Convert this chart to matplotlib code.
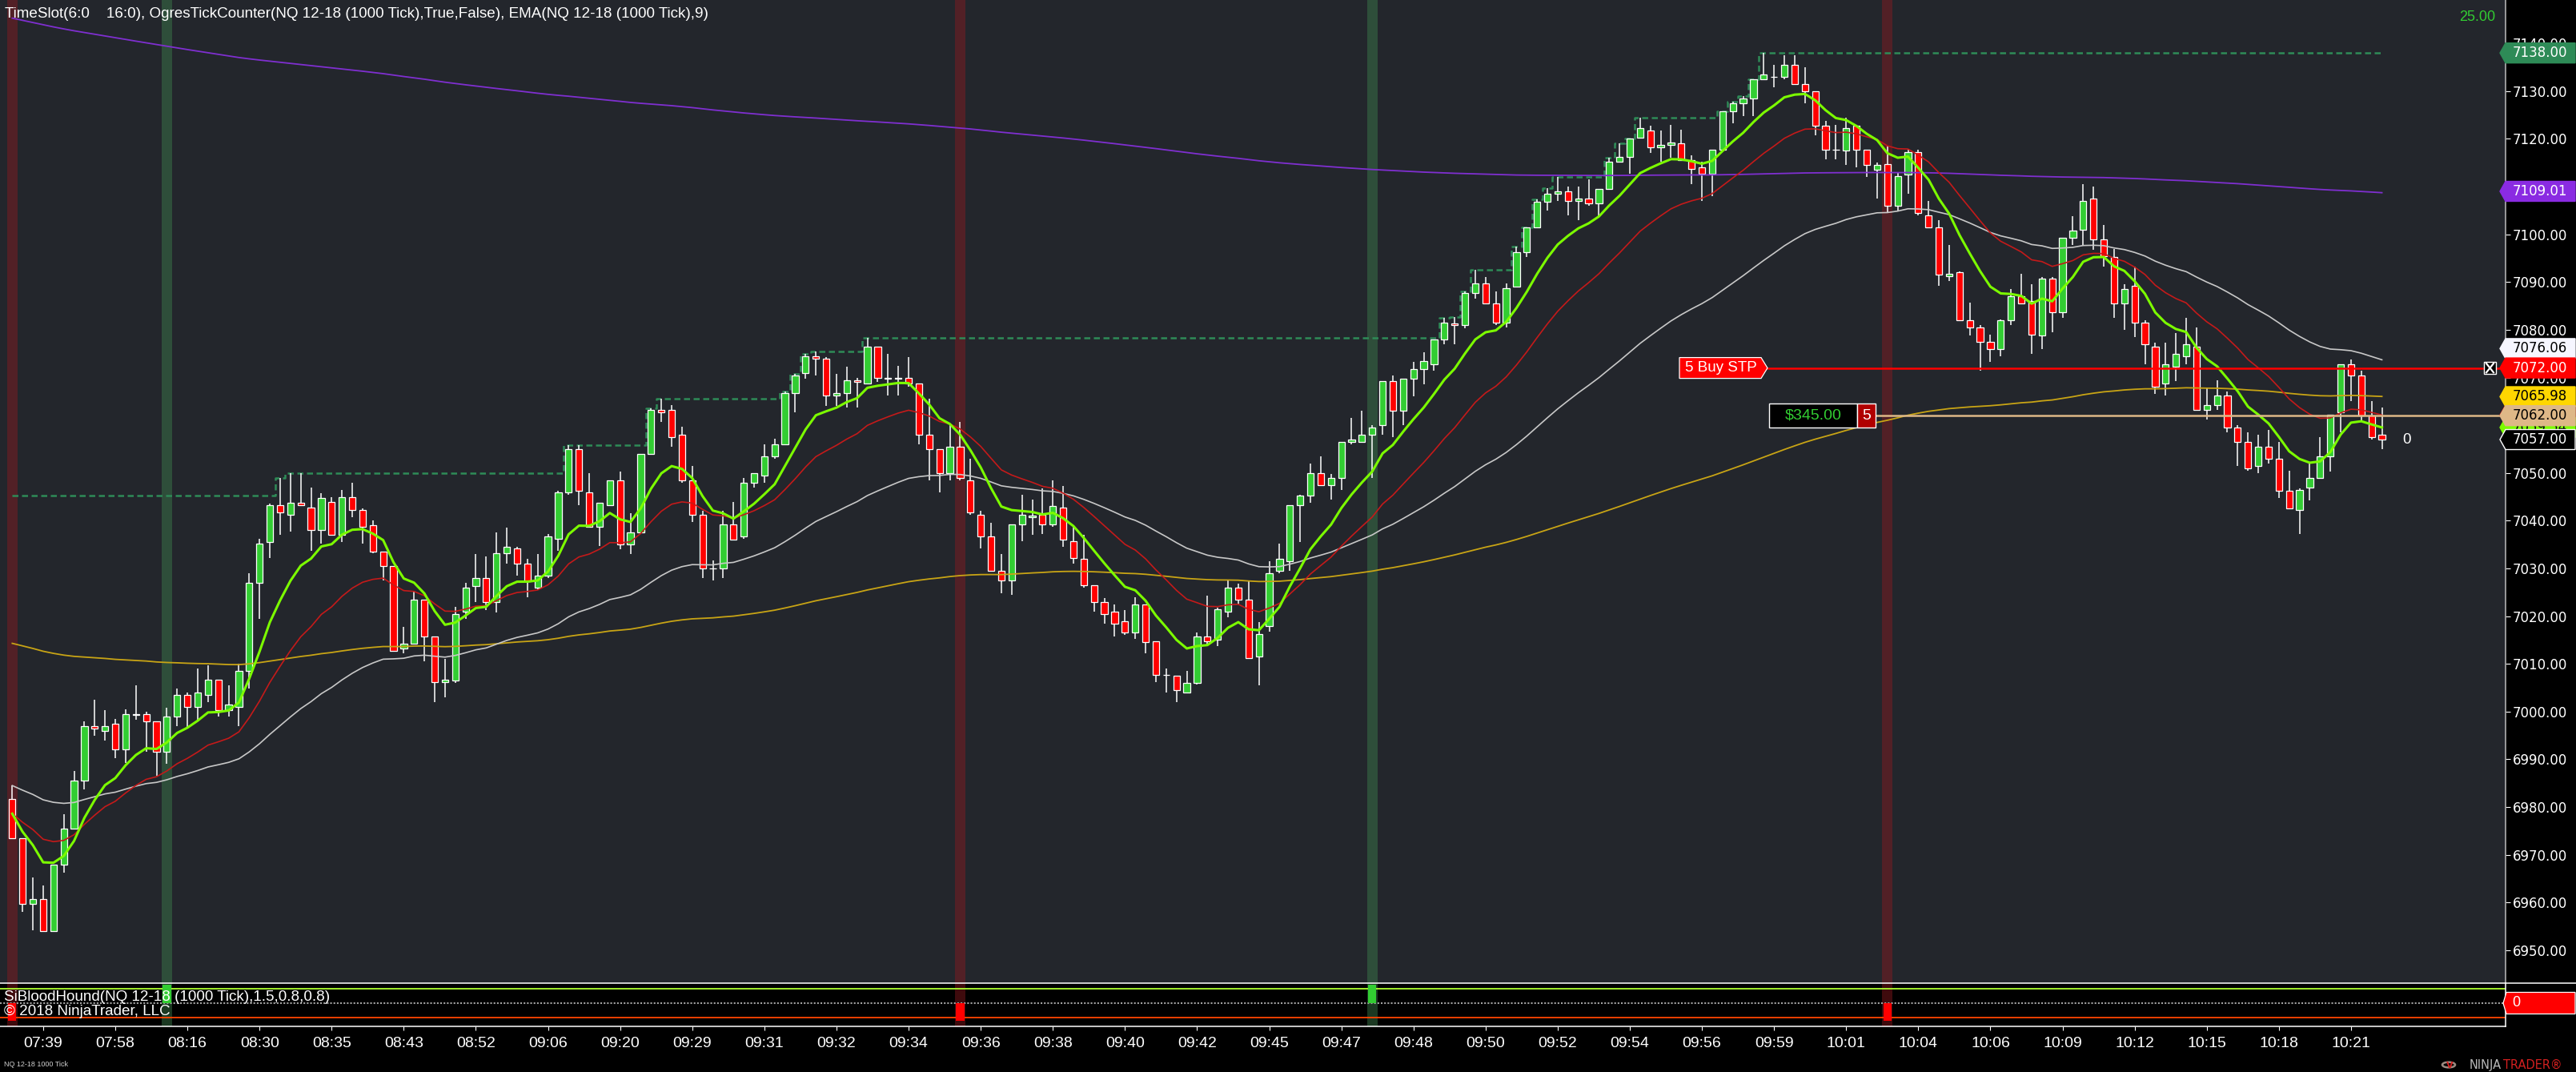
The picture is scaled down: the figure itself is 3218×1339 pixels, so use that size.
import numpy as np
import matplotlib
matplotlib.use("Agg")
import matplotlib.pyplot as plt
from matplotlib.patches import Polygon, Rectangle, Circle
from matplotlib.lines import Line2D
import matplotlib.transforms as mtransforms

plt.rcParams['font.family'] = ['Liberation Sans', 'DejaVu Sans']

# ---------------- data (NQ 12-18, 1000 tick bars) ----------------
opens = [6981.75, 6973.5, 6959.75, 6960.75, 6954.0, 6968.0, 6975.5, 6985.5, 6997.0, 6996.0,
         6997.5, 6992.0, 6999.25, 6999.5, 6998.0, 6991.5, 6999.0, 7003.5, 7001.0, 7003.5,
         7006.75, 7000.25, 7001.0, 7008.5, 7027.0, 7035.5, 7043.25, 7041.25, 7043.75, 7042.75,
         7038.0, 7044.0, 7037.0, 7045.0, 7042.25, 7039.0, 7033.5, 7030.5, 7013.25, 7014.25,
         7023.5, 7015.75, 7006.25, 7006.5, 7021.0, 7026.25, 7028.0, 7023.0, 7033.25, 7034.25,
         7031.0, 7026.0, 7028.5, 7036.25, 7046.0, 7055.0, 7046.0, 7038.75, 7043.25, 7048.5,
         7035.0, 7037.5, 7054.0, 7063.25, 7063.25, 7058.0, 7048.5, 7041.25, 7030.0, 7030.0,
         7039.25, 7036.75, 7048.0, 7049.5, 7053.5, 7056.0, 7066.75, 7071.0, 7074.5, 7074.0,
         7066.25, 7066.75, 7069.5, 7068.75, 7076.5, 7070.0, 7069.75, 7070.0, 7068.75, 7058.0,
         7055.0, 7050.0, 7055.5, 7048.5, 7041.25, 7036.75, 7029.5, 7027.5, 7039.25, 7040.75,
         7041.25, 7039.25, 7042.75, 7035.75, 7032.0, 7026.5, 7023.0, 7021.0, 7019.0, 7016.5,
         7022.5, 7014.75, 7007.75, 7007.5, 7004.0, 7006.0, 7015.75, 7015.0, 7021.0, 7026.0,
         7023.5, 7011.5, 7018.0, 7029.5, 7031.5, 7043.25, 7045.25, 7050.0, 7047.5, 7049.0,
         7056.5, 7056.5, 7058.0, 7060.0, 7069.25, 7063.0, 7069.75, 7071.75, 7072.75, 7078.0,
         7081.25, 7081.0, 7087.75, 7089.75, 7085.5, 7081.5, 7089.0, 7096.25, 7101.5, 7106.75,
         7108.5, 7109.0, 7107.0, 7107.5, 7106.5, 7109.5, 7115.25, 7116.25, 7120.25, 7121.75,
         7118.25, 7118.75, 7119.0, 7115.5, 7114.0, 7112.75, 7117.75, 7125.75, 7127.5, 7128.5,
         7132.5, 7133.0, 7133.0, 7135.5, 7131.5, 7130.0, 7122.75, 7117.75, 7117.5, 7122.75,
         7117.75, 7113.5, 7114.75, 7106.0, 7112.5, 7117.25, 7104.0, 7101.5, 7091.25, 7092.0,
         7082.0, 7080.5, 7077.5, 7076.0, 7082.0, 7087.0, 7086.0, 7078.75, 7090.75, 7083.75,
         7099.25, 7101.0, 7107.5, 7099.0, 7095.25, 7085.5, 7089.25, 7081.5, 7076.5, 7068.75,
         7072.25, 7074.5, 7076.5, 7063.25, 7064.25, 7066.25, 7059.5, 7056.5, 7051.5, 7055.5,
         7053.0, 7046.25, 7042.25, 7047.0, 7049.0, 7053.5, 7062.75, 7072.75, 7070.5, 7062.0,
         7058.0]
highs = [6984.5, 6973.5, 6965.25, 6963.5, 6968.0, 6978.5, 6987.5, 6998.0, 7002.5, 7000.25,
         6998.5, 7000.5, 7005.5, 7000.0, 6998.0, 7000.75, 7004.75, 7004.0, 7009.0, 7009.75,
         7006.75, 7005.5, 7010.0, 7029.0, 7036.25, 7043.5, 7049.0, 7050.0, 7050.0, 7047.0,
         7045.75, 7045.0, 7046.5, 7048.0, 7042.5, 7040.0, 7033.5, 7030.5, 7017.75, 7025.25,
         7023.5, 7015.75, 7011.0, 7022.0, 7027.0, 7033.0, 7032.5, 7037.5, 7038.5, 7034.5,
         7032.0, 7033.0, 7037.25, 7046.25, 7055.75, 7055.75, 7050.0, 7043.75, 7048.5, 7050.25,
         7041.5, 7054.0, 7063.5, 7065.5, 7064.25, 7059.75, 7051.5, 7042.0, 7031.75, 7042.0,
         7044.0, 7049.0, 7050.0, 7056.0, 7057.25, 7067.0, 7070.75, 7075.0, 7075.5, 7074.25,
         7070.75, 7072.25, 7070.0, 7078.25, 7076.5, 7075.0, 7072.5, 7074.25, 7068.75, 7065.5,
         7055.0, 7060.0, 7060.75, 7053.0, 7042.0, 7039.5, 7033.0, 7039.25, 7045.5, 7044.5,
         7046.75, 7048.5, 7047.25, 7038.75, 7037.0, 7026.5, 7023.75, 7022.5, 7021.25, 7024.0,
         7022.5, 7014.75, 7009.0, 7007.5, 7008.5, 7016.5, 7024.25, 7021.75, 7027.5, 7026.75,
         7027.25, 7018.75, 7031.5, 7035.25, 7043.25, 7045.5, 7052.0, 7053.5, 7049.75, 7056.5,
         7061.5, 7063.0, 7060.0, 7069.25, 7070.5, 7069.75, 7073.25, 7075.25, 7078.0, 7082.5,
         7082.75, 7088.0, 7092.5, 7091.0, 7088.0, 7089.75, 7097.5, 7101.5, 7107.25, 7109.75,
         7112.0, 7110.0, 7110.0, 7111.5, 7109.5, 7116.0, 7119.0, 7120.0, 7124.5, 7122.75,
         7121.75, 7123.0, 7122.0, 7116.5, 7115.25, 7117.75, 7125.75, 7127.75, 7129.0, 7132.5,
         7138.0, 7135.5, 7137.5, 7137.5, 7135.0, 7130.0, 7123.75, 7123.0, 7124.5, 7123.0,
         7117.75, 7115.0, 7118.5, 7113.0, 7117.75, 7117.75, 7107.0, 7103.0, 7097.75, 7092.25,
         7085.75, 7081.0, 7079.0, 7082.25, 7088.5, 7091.75, 7089.5, 7091.0, 7091.0, 7099.25,
         7103.75, 7110.5, 7110.0, 7102.0, 7097.0, 7089.5, 7093.25, 7082.0, 7077.25, 7077.25,
         7079.25, 7082.5, 7080.5, 7067.75, 7069.5, 7067.0, 7060.0, 7058.5, 7058.0, 7059.0,
         7056.5, 7050.5, 7046.75, 7052.0, 7057.5, 7062.25, 7072.75, 7073.75, 7071.5, 7065.0,
         7063.75]
lows = [6973.5, 6958.0, 6954.25, 6954.0, 6954.0, 6966.25, 6975.5, 6983.75, 6995.0, 6994.0,
        6990.25, 6989.25, 6998.25, 6991.5, 6986.5, 6989.0, 6997.0, 6996.5, 6998.0, 7002.0,
        6999.0, 6999.0, 6997.0, 7004.75, 7019.5, 7032.25, 7037.0, 7037.75, 7043.0, 7033.75,
        7035.25, 7037.0, 7035.5, 7040.75, 7035.25, 7033.25, 7027.5, 7012.5, 7012.25, 7014.25,
        7010.5, 7002.0, 7003.0, 7006.0, 7019.5, 7023.0, 7021.25, 7020.75, 7031.0, 7028.5,
        7024.0, 7025.5, 7028.0, 7033.75, 7045.5, 7043.25, 7038.75, 7034.75, 7043.25, 7034.0,
        7033.0, 7037.5, 7053.75, 7060.75, 7055.5, 7048.0, 7039.75, 7028.0, 7027.5, 7028.0,
        7036.0, 7036.25, 7047.0, 7048.0, 7053.0, 7056.0, 7062.75, 7069.75, 7070.5, 7064.0,
        7064.0, 7063.75, 7063.75, 7068.5, 7069.0, 7066.25, 7066.25, 7068.0, 7056.0, 7048.5,
        7046.0, 7048.5, 7048.5, 7041.25, 7034.25, 7029.25, 7024.75, 7024.5, 7035.75, 7037.0,
        7037.25, 7038.75, 7034.5, 7031.0, 7026.0, 7021.0, 7018.5, 7015.75, 7016.0, 7015.25,
        7012.25, 7006.25, 7004.0, 7002.0, 7004.0, 7005.75, 7014.0, 7013.75, 7019.75, 7022.5,
        7011.25, 7005.5, 7016.75, 7029.0, 7029.5, 7035.5, 7043.75, 7047.5, 7044.5, 7046.5,
        7056.0, 7056.5, 7049.0, 7058.0, 7057.5, 7060.0, 7066.0, 7068.5, 7071.5, 7077.0,
        7077.0, 7080.25, 7086.5, 7085.5, 7081.0, 7080.5, 7089.0, 7095.25, 7101.5, 7105.0,
        7107.0, 7104.0, 7103.0, 7106.0, 7103.75, 7109.5, 7115.0, 7112.75, 7120.25, 7117.0,
        7115.25, 7116.0, 7115.5, 7110.5, 7107.0, 7108.0, 7117.75, 7123.25, 7124.75, 7124.75,
        7132.5, 7130.75, 7132.5, 7131.5, 7127.5, 7120.75, 7115.75, 7115.75, 7114.5, 7114.0,
        7112.0, 7107.5, 7104.5, 7105.0, 7108.5, 7104.0, 7101.5, 7089.25, 7090.25, 7082.0,
        7078.75, 7071.5, 7073.25, 7074.5, 7081.0, 7085.5, 7075.0, 7076.0, 7079.5, 7082.5,
        7097.75, 7097.75, 7096.75, 7093.25, 7082.5, 7080.0, 7078.5, 7072.75, 7066.5, 7066.25,
        7069.25, 7072.75, 7063.25, 7061.25, 7063.25, 7058.5, 7051.5, 7050.5, 7050.0, 7052.0,
        7044.75, 7042.5, 7037.25, 7044.25, 7049.0, 7050.25, 7058.5, 7065.0, 7060.75, 7057.0,
        7055.0]
closes = [6973.5, 6959.75, 6960.75, 6954.0, 6968.0, 6975.5, 6985.5, 6997.0, 6996.5, 6997.0,
          6992.0, 6999.5, 6999.5, 6998.0, 6991.5, 6999.0, 7003.5, 7001.0, 7004.0, 7006.75,
          7000.25, 7001.5, 7008.5, 7027.0, 7035.25, 7043.25, 7041.75, 7043.75, 7043.25, 7038.0,
          7044.75, 7037.0, 7045.0, 7042.25, 7038.75, 7033.5, 7030.5, 7012.75, 7014.25, 7023.5,
          7015.75, 7006.25, 7006.75, 7020.5, 7026.0, 7028.0, 7023.0, 7033.25, 7034.5, 7031.0,
          7027.25, 7028.5, 7036.75, 7046.0, 7055.0, 7046.25, 7038.75, 7043.75, 7048.5, 7035.0,
          7037.5, 7054.0, 7063.25, 7062.75, 7057.5, 7048.5, 7041.25, 7030.0, 7030.0, 7039.25,
          7036.0, 7048.0, 7050.0, 7053.5, 7056.0, 7066.75, 7070.5, 7074.5, 7074.0, 7066.25,
          7066.75, 7069.5, 7069.0, 7076.5, 7070.0, 7069.75, 7070.0, 7068.75, 7058.0, 7055.0,
          7050.0, 7055.5, 7049.0, 7041.75, 7036.75, 7029.5, 7027.5, 7039.25, 7041.25, 7041.0,
          7039.25, 7043.0, 7036.0, 7032.25, 7026.5, 7023.0, 7020.5, 7018.5, 7016.5, 7022.5,
          7014.5, 7007.75, 7007.75, 7004.5, 7006.0, 7015.75, 7014.75, 7021.5, 7026.0, 7023.5,
          7011.25, 7016.25, 7029.0, 7032.0, 7043.25, 7045.25, 7050.0, 7047.5, 7049.0, 7056.5,
          7057.0, 7058.0, 7059.5, 7069.25, 7063.0, 7069.75, 7071.75, 7073.5, 7078.0, 7081.5,
          7081.0, 7087.75, 7089.75, 7085.5, 7081.5, 7088.75, 7096.25, 7101.5, 7106.75, 7108.5,
          7109.0, 7107.0, 7107.5, 7106.5, 7109.5, 7115.25, 7116.25, 7120.0, 7122.25, 7118.25,
          7118.75, 7119.25, 7115.5, 7113.75, 7112.75, 7117.75, 7125.75, 7127.5, 7128.5, 7132.5,
          7133.5, 7133.0, 7135.5, 7131.5, 7130.0, 7122.75, 7117.75, 7117.75, 7122.25, 7117.75,
          7114.5, 7114.5, 7106.0, 7112.25, 7117.25, 7104.5, 7101.5, 7091.5, 7091.75, 7082.0,
          7080.5, 7077.5, 7076.0, 7082.0, 7087.0, 7085.5, 7079.0, 7090.75, 7083.75, 7099.25,
          7100.75, 7107.0, 7099.0, 7095.5, 7085.5, 7088.5, 7081.5, 7077.0, 7068.0, 7072.75,
          7075.0, 7077.0, 7063.25, 7064.25, 7066.25, 7059.5, 7056.5, 7051.0, 7055.5, 7053.0,
          7046.25, 7042.5, 7046.5, 7049.0, 7053.5, 7062.25, 7072.75, 7070.5, 7062.0, 7057.5,
          7057.0]

time_labels = ["07:39", "07:58", "08:16", "08:30", "08:35", "08:43", "08:52", "09:06", "09:20",
               "09:29", "09:31", "09:32", "09:34", "09:36", "09:38", "09:40", "09:42", "09:45",
               "09:47", "09:48", "09:50", "09:52", "09:54", "09:56", "09:59", "10:01", "10:04",
               "10:06", "10:09", "10:12", "10:15", "10:18", "10:21"]
label_first_bar = 3
label_every = 7

red_slots = [0, 92, 182]        # TimeSlot / SiBloodHound sell signals
green_slots = [15, 132]         # buy signals

# indicator starting values (carried over from earlier bars)
ema9_start = 6978.6
ema20_start = 6978.6
ema50_start = 6984.5
ema200_start = 7014.3
ema_long_start = 7145.3
ema_long_period = 800
prior_high = 7045.25

price_ticks = list(range(6950, 7141, 10))

# right-axis markers
last_price = 7057.00
stop_price = 7072.00
entry_price = 7062.00
session_high_tag = 7138.00
ema_long_tag = 7109.01
ema50_tag = 7076.06
ema200_tag = 7065.98
order_qty = 5
pnl_text = "$345.00"
tick_counter_text = "25.00"

header = "TimeSlot(6:0    16:0), OgresTickCounter(NQ 12-18 (1000 Tick),True,False), EMA(NQ 12-18 (1000 Tick),9)"


def ema(vals, period, start):
    out = np.empty(len(vals))
    out[0] = start
    a = 2.0 / (period + 1)
    for i in range(1, len(vals)):
        out[i] = out[i - 1] + a * (vals[i] - out[i - 1])
    return out


o = np.array(opens); h = np.array(highs); l = np.array(lows); c = np.array(closes)
n = len(c)
idx = np.arange(n)

W, H = 3218, 1339
def fx(px):
    return px / W
def fy(py):
    return 1 - py / H

fig = plt.figure(figsize=(W / 100, H / 100), dpi=100, facecolor='black')

# ---------------- main price panel ----------------
ax = fig.add_axes([0, fy(1228), fx(3130), 1228 / H])
ax.set_facecolor('#23262c')
ax.set_xlim(-1.19, 242.0)
ax.set_ylim(6943.1, 7149.1)
for s in ['left', 'top', 'bottom']:
    ax.spines[s].set_visible(False)
ax.spines['right'].set_color('#bdbdbd')
ax.spines['right'].set_linewidth(1.1)
ax.yaxis.tick_right()
ax.set_yticks(price_ticks)
ax.set_yticklabels([f"{v:.2f}" for v in price_ticks])
ax.tick_params(axis='y', colors='white', length=4.3, width=0.8, pad=2.2, labelsize=12)
for lab in ax.get_yticklabels():
    lab.set_fontfamily('DejaVu Sans')
ax.tick_params(axis='x', bottom=False, labelbottom=False)

red_band = (0.55, 0.10, 0.12)
green_band = (0.24, 0.50, 0.30)
for i in red_slots:
    ax.axvspan(i - 0.5, i + 0.5, color=red_band, alpha=0.45, lw=0, zorder=0.5)
for i in green_slots:
    ax.axvspan(i - 0.5, i + 0.5, color=green_band, alpha=0.45, lw=0, zorder=0.5)

# running high (dashed step line)
running_high = np.maximum.accumulate(np.maximum(h, prior_high))
ax.plot(idx, running_high, drawstyle='steps-mid', color='#2e8b57', lw=1.8,
        dashes=(3.0, 1.8), zorder=2.5)

# candles
body_col = np.where(c >= o, '#32cd32', '#ff0000')
ax.vlines(idx, l, h, colors='white', linewidth=1.1, zorder=3)
ax.bar(idx, np.abs(c - o), bottom=np.minimum(o, c), width=0.64, color=body_col,
       edgecolor='white', linewidth=0.9, zorder=4)

# moving averages
e9 = ema(c, 9, ema9_start)
e20 = ema(c, 20, ema20_start)
e50 = ema(c, 50, ema50_start)
e200 = ema(c, 200, ema200_start)
elong = ema(c, ema_long_period, ema_long_start)
ax.plot(idx, elong, color='#7f2fd0', lw=1.3, zorder=5)
ax.plot(idx, e200, color='#c8a415', lw=1.3, zorder=5.2)
ax.plot(idx, e50, color='#c8c8c8', lw=1.2, zorder=5.4)
ax.plot(idx, e20, color='#c41a1a', lw=1.2, zorder=5.6)
ax.plot(idx, e9, color='#7cfc00', lw=2.2, zorder=5.8)

blend = mtransforms.blended_transform_factory(fig.transFigure, ax.transData)
ppu = 1228 / (7149.1 - 6943.1)


def price_tag(price, text, bg, fg, edge=None, z=10):
    hh = 12.5 / ppu
    pts = [(fx(3123), price), (fx(3130), price + hh), (fx(3217), price + hh),
           (fx(3217), price - hh), (fx(3130), price - hh)]
    ax.add_patch(Polygon(pts, closed=True, transform=blend, facecolor=bg,
                         edgecolor=edge if edge else bg, lw=1.0, clip_on=False, zorder=z))
    ax.text(fx(3139), price, text, transform=blend, ha='left', va='center', color=fg,
            fontsize=12, family='DejaVu Sans', clip_on=False, zorder=z + 0.1)


price_tag(e20[-1], f"{e20[-1]:.2f}", '#c41a1a', 'white', z=10)
price_tag(e9[-1], f"{e9[-1]:.2f}", '#7cfc00', 'black', z=10.2)
price_tag(session_high_tag, f"{session_high_tag:.2f}", '#2e8b57', 'white', z=10.4)
price_tag(ema_long_tag, f"{ema_long_tag:.2f}", '#8a2be2', 'white', z=10.4)
price_tag(ema50_tag, f"{ema50_tag:.2f}", '#f6f6ff', 'black', z=10.4)
price_tag(stop_price, f"{stop_price:.2f}", '#ff0000', 'white', z=10.6)
price_tag(ema200_tag, f"{ema200_tag:.2f}", '#ffd700', 'black', z=10.6)
price_tag(entry_price, f"{entry_price:.2f}", '#deb887', 'black', z=10.8)
price_tag(last_price, f"{last_price:.2f}", 'black', 'white', edge='white', z=11)

# stop order line + label
hh = 13 / ppu
ax.plot([fx(2208), fx(3123)], [stop_price, stop_price], transform=blend, color='#ff0000',
        lw=1.8, zorder=7, clip_on=False)
ax.add_patch(Polygon([(fx(2098), stop_price + hh), (fx(2200), stop_price + hh),
                      (fx(2208), stop_price), (fx(2200), stop_price - hh),
                      (fx(2098), stop_price - hh)], closed=True, transform=blend,
                     facecolor='#ff0000', edgecolor='white', lw=0.9, zorder=8))
ax.text(fx(2150), stop_price, f"{order_qty} Buy STP", transform=blend, ha='center',
        va='center', color='white', fontsize=13.5, zorder=8.5)
bx = 7.5 / ppu
ax.add_patch(Rectangle((fx(3103), stop_price - bx), fx(15), 2 * bx, transform=blend,
                       facecolor='black', edgecolor='white', lw=1.0, zorder=8, clip_on=False))
ax.plot([fx(3106), fx(3115)], [stop_price + 0.75 * bx, stop_price - 0.75 * bx],
        transform=blend, color='white', lw=1.6, zorder=8.5, clip_on=False)
ax.plot([fx(3106), fx(3115)], [stop_price - 0.75 * bx, stop_price + 0.75 * bx],
        transform=blend, color='white', lw=1.6, zorder=8.5, clip_on=False)

# position line + label
hp = 15 / ppu
ax.plot([fx(2343), fx(3123)], [entry_price, entry_price], transform=blend, color='#deb887',
        lw=1.8, zorder=7, clip_on=False)
ax.add_patch(Rectangle((fx(2210), entry_price - hp), fx(110), 2 * hp, transform=blend,
                       facecolor='black', edgecolor='white', lw=1.0, zorder=8))
ax.text(fx(2265), entry_price, pnl_text, transform=blend, ha='center', va='center',
        color='#32cd32', fontsize=14, zorder=8.5)
ax.add_patch(Rectangle((fx(2320), entry_price - hp), fx(23), 2 * hp, transform=blend,
                       facecolor='#b00000', edgecolor='white', lw=1.0, zorder=8))
ax.text(fx(2331.5), entry_price, str(order_qty), transform=blend, ha='center', va='center',
        color='white', fontsize=14, zorder=8.5)

ax.text(fx(3007), last_price, "0", transform=blend, ha='center', va='center', color='white',
        fontsize=13.5, zorder=8)

fig.text(fx(3095), fy(21), tick_counter_text, ha='center', va='center', color='#32cd32',
         fontsize=13)
fig.text(fx(6), fy(17), header, ha='left', va='center', color='white', fontsize=13.6)

# ---------------- SiBloodHound panel ----------------
bp = fig.add_axes([0, fy(1282), fx(3130), 54 / H])
bp.set_facecolor('black')
bp.set_xlim(ax.get_xlim())
bp.set_ylim(-1.29, 1.11)
for i in red_slots:
    bp.axvspan(i - 0.5, i + 0.5, color=red_band, alpha=0.45, lw=0, zorder=0.5)
for i in green_slots:
    bp.axvspan(i - 0.5, i + 0.5, color=green_band, alpha=0.45, lw=0, zorder=0.5)
bp.axhline(0.8, color='#adff2f', lw=1.3, zorder=1)
bp.axhline(0.0, color='#a0a0a0', lw=1.5, dashes=(1.0, 1.0), zorder=1)
bp.axhline(-0.8, color='#ff4500', lw=1.3, zorder=1)
bp.bar(green_slots, [1.0] * len(green_slots), width=0.8, color='#32cd32', zorder=3)
bp.bar(red_slots, [-1.0] * len(red_slots), width=0.8, color='#ff0000', zorder=3)
bp.spines['left'].set_visible(False)
bp.spines['top'].set_visible(False)
bp.spines['bottom'].set_color('white')
bp.spines['bottom'].set_linewidth(1.1)
bp.spines['right'].set_color('white')
bp.spines['right'].set_linewidth(1.1)
bp.set_yticks([])
ticks = [label_first_bar + label_every * k for k in range(len(time_labels))]
bp.set_xticks(ticks)
bp.set_xticklabels(time_labels)
bp.tick_params(axis='x', colors='white', length=3.6, width=0.8, pad=5.5, labelsize=14)

pblend = mtransforms.blended_transform_factory(fig.transFigure, bp.transData)
ph = 13.5 / 22.5
bp.add_patch(Polygon([(fx(3127), 0), (fx(3131), ph), (fx(3217), ph), (fx(3217), -ph),
                      (fx(3131), -ph)], closed=True, transform=pblend, facecolor='#ff0000',
                     edgecolor='white', lw=0.9, clip_on=False, zorder=10))
bp.text(fx(3143), 0, "0", transform=pblend, ha='center', va='center', color='white',
        fontsize=13, clip_on=False, zorder=11)

fig.text(fx(5), fy(1246), "SiBloodHound(NQ 12-18 (1000 Tick),1.5,0.8,0.8)", ha='left',
         va='center', color='white', fontsize=13.6, zorder=20)
fig.text(fx(5), fy(1263), "\u00a9 2018 NinjaTrader, LLC", ha='left', va='center',
         color='white', fontsize=13.6, zorder=20)

fig.add_artist(Line2D([0, 1], [fy(1228), fy(1228)], transform=fig.transFigure,
                      color='white', lw=1.1))

fig.text(fx(5), fy(1330), "NQ 12-18 1000 Tick", ha='left', va='center', color='#d0d0d0',
         fontsize=6.5)
fig.text(fx(3125), fy(1330), "NINJA", ha='right', va='center', color='#b8b8b8',
         fontsize=10.5, family='DejaVu Sans')
fig.text(fx(3127), fy(1330), "TRADER\u00ae", ha='left', va='center', color='#d42020',
         fontsize=10.5, family='DejaVu Sans')
fig.add_artist(Circle((fx(3059), fy(1330)), 0.0025, transform=fig.transFigure,
                      facecolor='none', edgecolor='#9a8a80', lw=1.8))
fig.text(fx(3060), fy(1331), "V", ha='center', va='center', color='#d42020',
         fontsize=8, family='DejaVu Sans', weight='bold')

fig.savefig("out.png", dpi=100, facecolor='black')
